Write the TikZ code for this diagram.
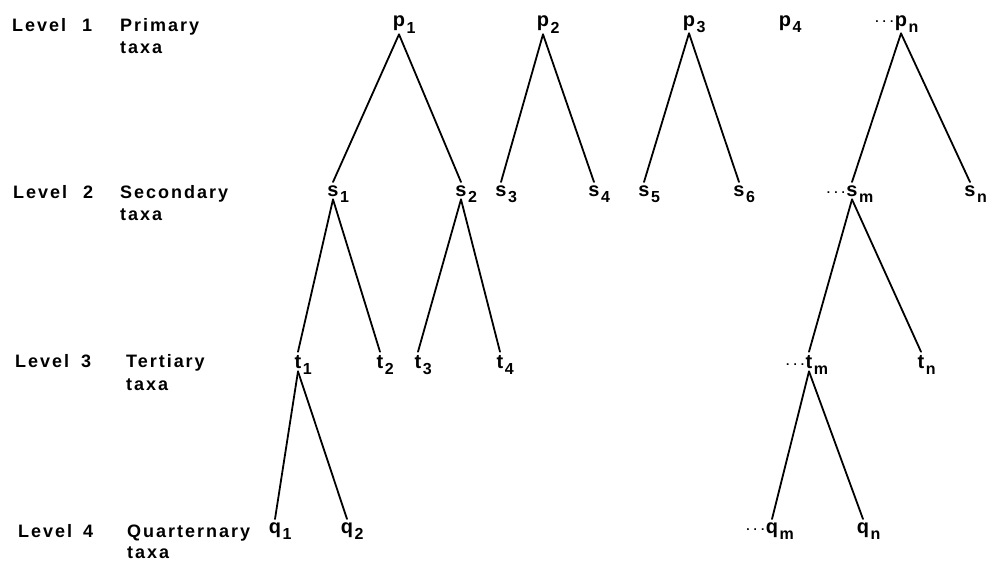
\documentclass[tikz,border=0pt]{standalone}
\usepackage{fontspec}
\newfontfamily\labfont{Liberation Sans}[LetterSpace=11]
\newfontfamily\treefont{Liberation Sans}
% taxon label: optional leading dots, the letter, and a lowered index
% (dots and index take no room, so the node is centred on the letter)
\newcommand\taxon[3]{\llap{\smash{#1}}#2\rlap{\kern1.5pt\smash{\raisebox{-6pt}{\fontsize{16}{16}\selectfont #3}}}}
\newcommand\etc{{\fontsize{12}{12}\selectfont\raisebox{3pt}{.\kern4pt.\kern4pt.}\kern1.5pt}}
\tikzset{
  lvl/.style={anchor=base west, inner sep=0pt,
    font=\labfont\bfseries\fontsize{18}{22}\selectfont},
  tx/.style={anchor=base, inner sep=3pt,
    font=\treefont\bfseries\fontsize{20}{22}\selectfont},
  branch/.style={line width=1.8pt, line cap=round},
}
\begin{document}
\begin{tikzpicture}[x=1pt,y=-1pt]
\useasboundingbox (0,0) rectangle (989,562);

% level captions
\node[lvl] (lv1) at (12,31) {Level};
\node[lvl] (n1)  at (82,31) {1};
\node[lvl] (c1)  at (120,31) {Primary};
\node[lvl] (x1)  at (120,53) {taxa};

\node[lvl] (lv2) at (13,198) {Level};
\node[lvl] (n2)  at (83,198) {2};
\node[lvl] (c2)  at (120,198) {Secondary};
\node[lvl] (x2)  at (120,220) {taxa};

\node[lvl] (lv3) at (15,367) {Level};
\node[lvl] (n3)  at (81,367) {3};
\node[lvl] (c3)  at (126,367) {Tertiary};
\node[lvl] (x3)  at (126,390) {taxa};

\node[lvl] (lv4) at (18,537) {Level};
\node[lvl] (n4)  at (83,537) {4};
\node[lvl] (c4)  at (127,537) {Quarternary};
\node[lvl] (x4)  at (127,558) {taxa};

% primary taxa
\node[tx] (p1) at (399,27) {\taxon{}{p}{1}};
\node[tx] (p2) at (543,27) {\taxon{}{p}{2}};
\node[tx] (p3) at (689,26) {\taxon{}{p}{3}};
\node[tx] (p4) at (785,26) {\taxon{}{p}{4}};
\node[tx] (pn) at (901,26) {\taxon{\etc}{p}{n}};

% secondary taxa
\node[tx] (s1) at (333,196) {\taxon{}{s}{1}};
\node[tx] (s2) at (461,196) {\taxon{}{s}{2}};
\node[tx] (s3) at (501,196) {\taxon{}{s}{3}};
\node[tx] (s4) at (594,196) {\taxon{}{s}{4}};
\node[tx] (s5) at (644,196) {\taxon{}{s}{5}};
\node[tx] (s6) at (739,196) {\taxon{}{s}{6}};
\node[tx] (sm) at (852,196) {\taxon{\etc}{s}{m}};
\node[tx] (sn) at (970,196) {\taxon{}{s}{n}};

% tertiary taxa
\node[tx] (t1) at (298,368) {\taxon{}{t}{1}};
\node[tx] (t2) at (380,368) {\taxon{}{t}{2}};
\node[tx] (t3) at (418,368) {\taxon{}{t}{3}};
\node[tx] (t4) at (500,368) {\taxon{}{t}{4}};
\node[tx] (tm) at (809,368) {\taxon{\etc}{t}{m}};
\node[tx] (tn) at (921,368) {\taxon{}{t}{n}};

% quaternary taxa
\node[tx] (q1) at (275,533) {\taxon{}{q}{1}};
\node[tx] (q2) at (347,533) {\taxon{}{q}{2}};
\node[tx] (qm) at (772,533) {\taxon{\etc}{q}{m}};
\node[tx] (qn) at (863,533) {\taxon{}{q}{n}};

% branches
\foreach \a/\b in {p1/s1,p1/s2,p2/s3,p2/s4,p3/s5,p3/s6,pn/sm,pn/sn,
                   s1/t1,s1/t2,s2/t3,s2/t4,sm/tm,sm/tn,
                   t1/q1,t1/q2,tm/qm,tm/qn}
  \draw[branch] (\a.south) -- (\b.north);
\end{tikzpicture}
\end{document}
